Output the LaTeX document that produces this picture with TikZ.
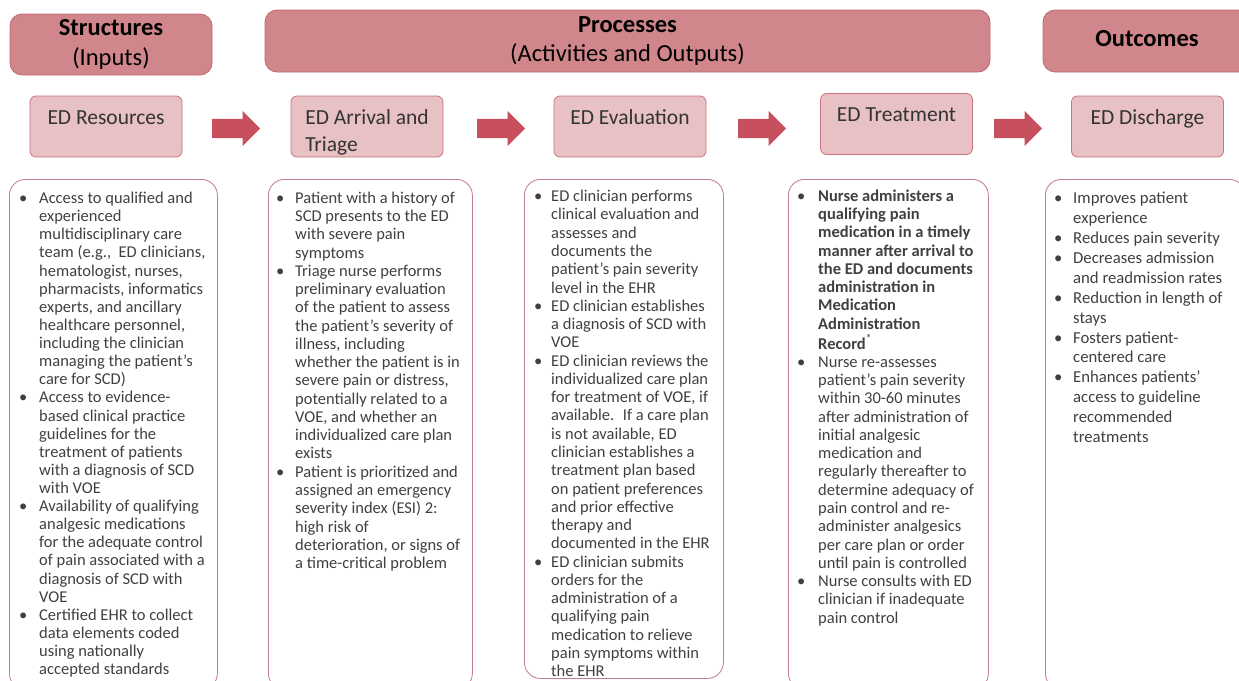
\documentclass[tikz,border=0pt]{standalone}
\usepackage{fontspec}
\setmainfont{Carlito}
\usetikzlibrary{positioning,shapes.arrows}
\definecolor{headpink}{RGB}{209,134,140}
\definecolor{headedge}{RGB}{192,104,113}
\definecolor{stagepink}{RGB}{231,193,196}
\definecolor{stageedge}{RGB}{200,116,126}
\definecolor{flowred}{RGB}{200,80,94}
\definecolor{listedge}{RGB}{196,124,134}
\definecolor{bodygray}{RGB}{64,64,64}

\tikzset{
  header/.style={draw=headedge, fill=headpink, rounded corners=12pt, line width=0.8pt,
    align=center, text=black, inner sep=0pt, font=\fontsize{24.5}{29.4}\selectfont},
  stagebox/.style={draw=stageedge, fill=stagepink, rounded corners=6pt, line width=0.8pt,
    minimum width=152pt, minimum height=61pt, inner sep=0pt},
  stagelabel/.style={text=black!80, inner sep=0pt, text height=15pt,
    text depth=5pt, font=\fontsize{21.5}{27}\selectfont},
  listbox/.style={draw=listedge, rounded corners=16pt, line width=0.8pt,
    minimum width=#1, minimum height=510pt, inner sep=0pt, anchor=north west},
  listtext/.style={inner sep=0pt, anchor=north west, text=bodygray,
    font=\fontsize{16.5}{18.27}\selectfont},
  flowarrow/.style={single arrow, fill=flowred, draw=none, minimum height=48pt,
    minimum width=35pt, single arrow head extend=8pt, single arrow head indent=0pt,
    inner xsep=0pt, inner ysep=9.5pt, anchor=tail}
}

\begin{document}
\begin{tikzpicture}[x=1pt,y=1pt]
  \path[fill=white, use as bounding box] (0,0) rectangle (1239,-680);
  % Column headers
  \node[header, minimum width=202pt, minimum height=61pt] (struct) at (111,-44.5)
    {\textbf{Structures}\\(Inputs)};
  \node[header, minimum width=725pt, minimum height=62pt] (proc) at (627.5,-41)
    {\textbf{Processes}\\(Activities and Outputs)};
  \node[header, minimum width=208pt, minimum height=62pt] (outc) at (1147,-41)
    {\textbf{Outcomes}\vphantom{g}};

  % Stages
  \node[stagebox] (res) at (106,-126.5) {};
  \node[stagebox] (arr) at (367,-126.5) {};
  \node[stagebox] (eva) at (630,-126.5) {};
  \node[stagebox] (trt) at (896.5,-124) {};
  \node[stagebox] (dis) at (1147.5,-126.5) {};
  \node[stagelabel, below=13.5pt of res.north] (resl) {ED Resources};
  \node[stagelabel, below=13.5pt of arr.north] (arrl)
    {\begin{tabular}[t]{@{}l@{}}ED Arrival and\\Triage\end{tabular}};
  \node[stagelabel, below=13.5pt of eva.north] (eval) {ED Evaluation};
  \node[stagelabel, below=13.5pt of trt.north] (trtl) {ED Treatment};
  \node[stagelabel, below=13.5pt of dis.north] (disl) {ED Discharge};

  % Block arrows
  \foreach \x/\n in {212/a1, 477/a2, 738/a3, 994/a4}
    \node[flowarrow] (\n) at (\x,-128.5) {};

  % Bullet boxes
  \node[listbox=208pt] (lres) at (9,-179) {};
  \node[listbox=204pt] (larr) at (268,-179) {};
  \node[listbox=199pt, minimum height=499pt] (leva) at (524,-179) {};
  \node[listbox=200pt] (ltrt) at (788,-179) {};
  \node[listbox=200pt] (ldis) at (1045,-179) {};

  \node[listtext, font=\fontsize{16.5}{18.12}\selectfont,
    below right=11.7pt and 10pt of lres.north west] (tres) {%
    \begin{tabular}{@{}p{20pt}@{}l@{}}
      \textbullet & Access to qualified and\\
      & experienced\\
      & multidisciplinary care\\
      & team (e.g.,~ ED clinicians,\\
      & hematologist, nurses,\\
      & pharmacists, informatics\\
      & experts, and ancillary\\
      & healthcare personnel,\\
      & including the clinician\\
      & managing the patient's\\
      & care for SCD)\\
      \textbullet & Access to evidence-\\
      & based clinical practice\\
      & guidelines for the\\
      & treatment of patients\\
      & with a diagnosis of SCD\\
      & with VOE\\
      \textbullet & Availability of qualifying\\
      & analgesic medications\\
      & for the adequate control\\
      & of pain associated with a\\
      & diagnosis of SCD with\\
      & VOE\\
      \textbullet & Certified EHR to collect\\
      & data elements coded\\
      & using nationally\\
      & accepted standards
    \end{tabular}};

  \node[listtext, below right=11.2pt and 8pt of larr.north west] (tarr) {%
    \begin{tabular}{@{}p{19pt}@{}l@{}}
      \textbullet & Patient with a history of\\
      & SCD presents to the ED\\
      & with severe pain\\
      & symptoms\\
      \textbullet & Triage nurse performs\\
      & preliminary evaluation\\
      & of the patient to assess\\
      & the patient's severity of\\
      & illness, including\\
      & whether the patient is in\\
      & severe pain or distress,\\
      & potentially related to a\\
      & VOE, and whether an\\
      & individualized care plan\\
      & exists\\
      \textbullet & Patient is prioritized and\\
      & assigned an emergency\\
      & severity index (ESI) 2:\\
      & high risk of\\
      & deterioration, or signs of\\
      & a time-critical problem
    \end{tabular}};

  \node[listtext, below right=9.7pt and 10pt of leva.north west] (teva) {%
    \begin{tabular}{@{}p{17pt}@{}l@{}}
      \textbullet & ED clinician performs\\
      & clinical evaluation and\\
      & assesses and\\
      & documents the\\
      & patient's pain severity\\
      & level in the EHR\\
      \textbullet & ED clinician establishes\\
      & a diagnosis of SCD with\\
      & VOE\\
      \textbullet & ED clinician reviews the\\
      & individualized care plan\\
      & for treatment of VOE, if\\
      & available.~ If a care plan\\
      & is not available, ED\\
      & clinician establishes a\\
      & treatment plan based\\
      & on patient preferences\\
      & and prior effective\\
      & therapy and\\
      & documented in the EHR\\
      \textbullet & ED clinician submits\\
      & orders for the\\
      & administration of a\\
      & qualifying pain\\
      & medication to relieve\\
      & pain symptoms within\\
      & the EHR
    \end{tabular}};

  \node[listtext, below right=9.2pt and 9pt of ltrt.north west] (ttrt) {%
    \begin{tabular}{@{}p{21pt}@{}l@{}}
      \textbullet & \textbf{Nurse administers a}\\
      & \textbf{qualifying pain}\\
      & \textbf{medication in a timely}\\
      & \textbf{manner after arrival to}\\
      & \textbf{the ED and documents}\\
      & \textbf{administration in}\\
      & \textbf{Medication}\\
      & \textbf{Administration}\\
      & \textbf{Record}\textsuperscript{*}\\
      \textbullet & Nurse re-assesses\\
      & patient's pain severity\\
      & within 30-60 minutes\\
      & after administration of\\
      & initial analgesic\\
      & medication and\\
      & regularly thereafter to\\
      & determine adequacy of\\
      & pain control and re-\\
      & administer analgesics\\
      & per care plan or order\\
      & until pain is controlled\\
      \textbullet & Nurse consults with ED\\
      & clinician if inadequate\\
      & pain control
    \end{tabular}};

  \node[listtext, font=\fontsize{16.7}{19.9}\selectfont,
    below right=10.6pt and 9pt of ldis.north west] (tdis) {%
    \begin{tabular}{@{}p{19pt}@{}l@{}}
      \textbullet & Improves patient\\
      & experience\\
      \textbullet & Reduces pain severity\\
      \textbullet & Decreases admission\\
      & and readmission rates\\
      \textbullet & Reduction in length of\\
      & stays\\
      \textbullet & Fosters patient-\\
      & centered care\\
      \textbullet & Enhances patients'\\
      & access to guideline\\
      & recommended\\
      & treatments
    \end{tabular}};
\end{tikzpicture}
\end{document}
